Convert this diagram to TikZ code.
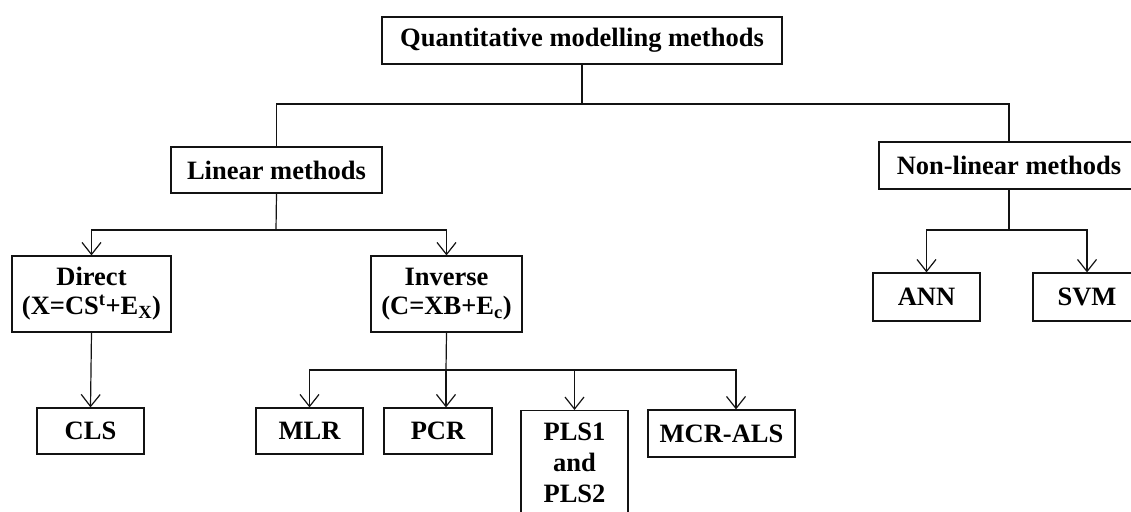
\documentclass[tikz,border=0pt]{standalone}
\usepackage{fontspec}
\setmainfont{Liberation Serif}
\usetikzlibrary{arrows.meta}

\tikzset{
  box/.style={draw=gray!15!black, line width=1.2pt, rectangle, inner sep=0pt,
              align=center, font=\bfseries\fontsize{26.5}{29}\selectfont},
  link/.style={draw=gray!15!black, line width=1.2pt},
  arr/.style={link, -{Straight Barb[length=12pt,width=19pt]}}
}

\begin{document}
\begin{tikzpicture}[x=1pt, y=-1pt]
  \clip (0,0) rectangle (1131,511);
  \fill[white] (0,0) rectangle (1131,511);

  % top level
  \node[box, minimum width=400pt, minimum height=47pt] (top) at (582,40.5) {Quantitative modelling methods};

  % second level
  \node[box, minimum width=211pt, minimum height=46pt] (linear) at (276.5,170) {Linear methods};
  \node[box, minimum width=260pt, minimum height=47pt] (nonlin) at (1009,165.5) {Non-linear methods};

  % linear sub-families
  \node[box, minimum width=159pt, minimum height=76pt] (direct) at (91.5,294) {Direct\\(X=CS\textsuperscript{t}+E\textsubscript{X})};
  \node[box, minimum width=151pt, minimum height=76pt] (inverse) at (446.5,294) {Inverse\\(C=XB+E\textsubscript{c})};

  % non-linear methods
  \node[box, minimum width=107pt, minimum height=48pt] (ann) at (926.5,297) {ANN};
  \node[box, minimum width=108pt, minimum height=48pt] (svm) at (1087,297) {SVM};

  % bottom level
  \node[box, minimum width=107pt, minimum height=46pt] (cls) at (90.5,431) {CLS};
  \node[box, minimum width=107pt, minimum height=46pt] (mlr) at (309.5,431) {MLR};
  \node[box, minimum width=108pt, minimum height=46pt] (pcr) at (438,431) {PCR};
  \node[box, minimum width=107pt, minimum height=104pt, anchor=north,
        font=\bfseries\fontsize{26.5}{31}\selectfont] (pls) at (574.5,410) {PLS1\\and\\PLS2};
  \node[box, minimum width=147pt, minimum height=47pt] (mcr) at (721.5,433.5) {MCR-ALS};

  % junction points of the buses
  \coordinate (j1) at (582,104);
  \coordinate (j2) at (276,230);
  \coordinate (j3) at (446,370);
  \coordinate (j4) at (1009,230);

  % top bus
  \draw[link] (top.south) -- (j1);
  \draw[link] (linear.north) |- (j1) -| (nonlin.north);

  % linear split
  \draw[link] (linear.south) -- (j2);
  \draw[arr] (j2) -| (direct.north);
  \draw[arr] (j2) -| (inverse.north);

  % direct branch
  \draw[arr] (direct.south) -- (cls.north);

  % inverse branch
  \draw[link] (inverse.south) -- (j3);
  \draw[arr] (j3) -- (j3 |- pcr.north);
  \draw[arr] (j3) -| (mlr.north);
  \draw[arr] (j3) -| (pls.north);
  \draw[arr] (j3) -| ([xshift=14.5pt]mcr.north);

  % non-linear split
  \draw[link] (nonlin.south) -- (j4);
  \draw[arr] (j4) -| (ann.north);
  \draw[arr] (j4) -| (svm.north);
\end{tikzpicture}
\end{document}
